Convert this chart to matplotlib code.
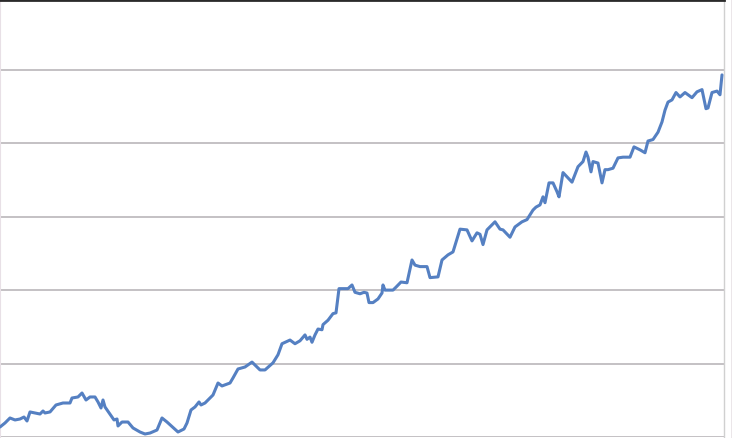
import matplotlib.pyplot as plt
from matplotlib.lines import Line2D

# time steps and values (grid lines every 10)
days = [0, 5, 10, 15, 20, 24, 27, 30, 35, 40, 43, 45, 50, 56, 63, 70, 72, 78, 82, 86,
        90, 95, 98, 101, 103, 105, 112, 114, 117, 118, 122, 128, 133, 140, 145, 150, 157, 162, 167, 178,
        184, 187, 191, 195, 199, 201, 205, 213, 218, 222, 230, 233, 238, 245, 252, 260, 265, 273, 278, 282,
        290, 295, 300, 305, 307, 310, 312, 315, 318, 322, 323, 328, 333, 336, 339, 342, 348, 352, 355, 360,
        364, 367, 369, 373, 378, 382, 383, 385, 393, 396, 401, 407, 412, 415, 420, 427, 430, 438, 442, 448,
        453, 460, 467, 472, 477, 480, 483, 487, 495, 500, 503, 510, 515, 522, 527, 533, 536, 540, 543, 545,
        549, 553, 557, 559, 563, 572, 578, 583, 586, 588, 591, 593, 598, 602, 605, 608, 613, 618, 623, 630,
        634, 640, 645, 648, 653, 658, 662, 665, 668, 672, 676, 680, 685, 692, 697, 702, 706, 708, 712, 717,
        720, 722]
values = [1.36, 1.91, 2.59, 2.32, 2.45, 2.72, 2.18, 3.41, 3.27, 3.13, 3.54, 3.27, 3.41, 4.36, 4.63, 4.63, 5.31, 5.45, 5.99, 5.04,
          5.45, 5.45, 4.77, 3.95, 5.04, 4.09, 2.72, 2.32, 2.45, 1.50, 2.04, 2.04, 1.23, 0.68, 0.41, 0.54, 0.95, 2.59, 2.04, 0.68,
          1.09, 1.91, 3.68, 4.09, 4.77, 4.36, 4.63, 5.72, 7.35, 6.95, 7.35, 8.04, 9.26, 9.53, 10.2, 9.13, 9.13, 10.1, 11.2, 12.7,
          13.2, 12.7, 13.1, 13.9, 13.3, 13.6, 12.9, 13.9, 14.7, 14.6, 15.3, 15.9, 16.8, 16.9, 20.2, 20.2, 20.2, 20.7, 19.7, 19.5,
          19.7, 19.6, 18.3, 18.3, 18.8, 19.6, 20.7, 20.0, 20.0, 20.4, 21.1, 21.0, 24.1, 23.4, 23.2, 23.2, 21.7, 21.8, 24.1, 24.8,
          25.2, 28.3, 28.2, 26.7, 27.8, 27.6, 26.2, 28.2, 29.3, 28.3, 28.2, 27.2, 28.6, 29.3, 29.6, 30.9, 31.3, 31.6, 32.7, 31.9,
          34.6, 34.6, 33.4, 32.7, 36.0, 34.7, 36.8, 37.5, 38.8, 38.1, 36.1, 37.5, 37.3, 34.6, 36.4, 36.4, 36.6, 38.0, 38.1, 38.1,
          39.5, 39.1, 38.7, 40.3, 40.5, 41.5, 42.9, 44.5, 45.6, 45.9, 46.9, 46.3, 46.9, 46.2, 47.0, 47.3, 44.7, 44.8, 46.9, 47.1,
          46.6, 49.3]
grid_levels = [0, 10, 20, 30, 40, 50]

fig = plt.figure(figsize=(7.32, 4.38), dpi=100)
fig.patch.set_facecolor('white')
ax = fig.add_axes([0, 1 / 438, 724 / 732, 437 / 438])

for lvl in grid_levels:
    ax.axhline(lvl, color='#bab6ba', linewidth=1.2, zorder=1)

ax.plot(days, values, color='#5580c2', linewidth=2.2, solid_joinstyle='round',
        solid_capstyle='round', zorder=3)

ax.set_xlim(0, 724)
ax.set_ylim(0, 59.5)
ax.set_xticks([])
ax.set_yticks([])

ax.spines['left'].set_color('#e8e0e6')
ax.spines['bottom'].set_visible(False)
ax.spines['top'].set_color('#2a2a2a')
ax.spines['top'].set_linewidth(2)
ax.spines['right'].set_color('#d0d0d0')
ax.spines['right'].set_linewidth(1)

# thin mauve edge on the far right of the frame
fig.add_artist(Line2D([731.5 / 732, 731.5 / 732], [0, 1], color='#9a8090', linewidth=1))

fig.savefig('out.png', dpi=100)
